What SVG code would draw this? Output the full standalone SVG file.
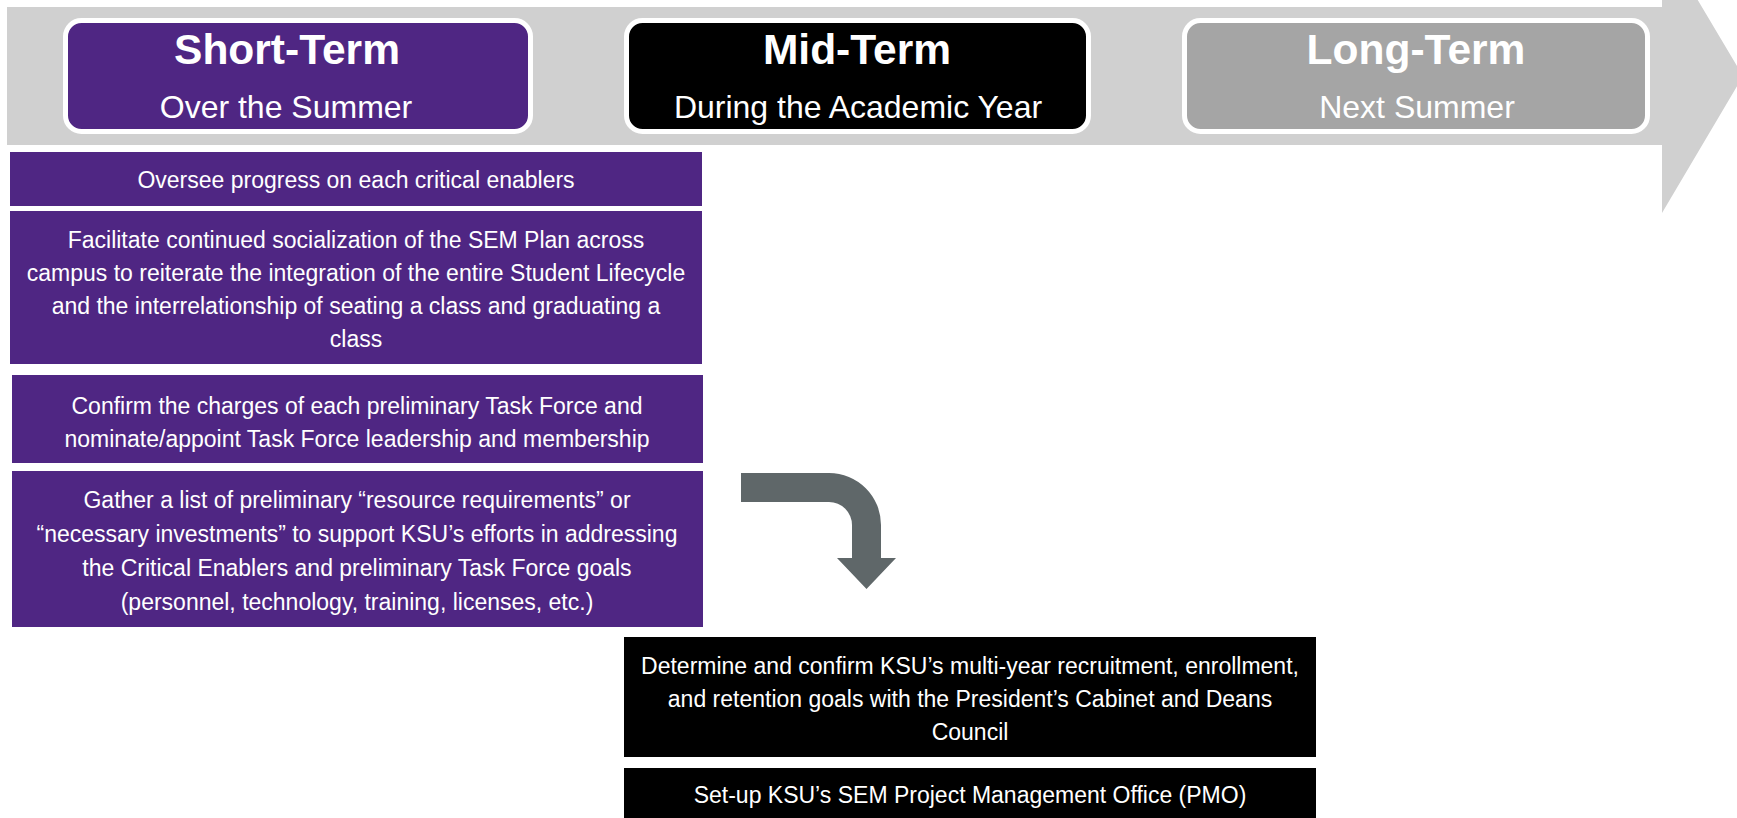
<svg xmlns="http://www.w3.org/2000/svg" width="1737" height="818" viewBox="0 0 1737 818">
<style>
  .hdr { stroke: #ffffff; stroke-width: 5; }
  .title { font-family: "Liberation Sans", Arial, sans-serif; font-weight: bold; font-size: 42.5px; fill: #ffffff; text-anchor: middle; }
  .sub { font-family: "Liberation Sans", Arial, sans-serif; font-size: 32px; fill: #ffffff; text-anchor: middle; }
  .body { font-family: "Liberation Sans", Arial, sans-serif; font-size: 23px; fill: #ffffff; text-anchor: middle; }
  .purple { fill: #4f2683; }
  .black { fill: #000000; }
</style>
<rect width="1737" height="818" fill="#ffffff"/>
<g id="timeline">
  <path d="M7,7 H1662 V-60 L1743,76 L1662,213 V145 H7 Z" fill="#d0d0d0"/>
</g>
<g id="short-term">
  <rect class="hdr" x="65.5" y="20.5" width="465" height="111" rx="16" fill="#4f2683"/>
  <text class="title" x="287" y="64">Short-Term</text>
  <text class="sub" x="286" y="118">Over the Summer</text>
</g>
<g id="mid-term">
  <rect class="hdr" x="626.5" y="20.5" width="462" height="111" rx="16" fill="#000000"/>
  <text class="title" x="857" y="64">Mid-Term</text>
  <text class="sub" x="858" y="118">During the Academic Year</text>
</g>
<g id="long-term">
  <rect class="hdr" x="1184.5" y="20.5" width="463" height="111" rx="16" fill="#a5a5a5"/>
  <text class="title" x="1416" y="64">Long-Term</text>
  <text class="sub" x="1417" y="118">Next Summer</text>
</g>
<g id="task1">
  <rect class="purple" x="10" y="152" width="692" height="54"/>
  <text class="body" x="356" y="188">Oversee progress on each critical enablers</text>
</g>
<g id="task2">
  <rect class="purple" x="10" y="211" width="692" height="153"/>
  <text class="body" x="356" y="248">Facilitate continued socialization of the SEM Plan across</text>
  <text class="body" x="356" y="281">campus to reiterate the integration of the entire Student Lifecycle</text>
  <text class="body" x="356" y="314">and the interrelationship of seating a class and graduating a</text>
  <text class="body" x="356" y="347">class</text>
</g>
<g id="task3">
  <rect class="purple" x="12" y="375" width="691" height="88"/>
  <text class="body" x="357" y="414">Confirm the charges of each preliminary Task Force and</text>
  <text class="body" x="357" y="447">nominate/appoint Task Force leadership and membership</text>
</g>
<g id="task4">
  <rect class="purple" x="12" y="471" width="691" height="156"/>
  <text class="body" x="357" y="508">Gather a list of preliminary “resource requirements” or</text>
  <text class="body" x="357" y="542">“necessary investments” to support KSU’s efforts in addressing</text>
  <text class="body" x="357" y="576">the Critical Enablers and preliminary Task Force goals</text>
  <text class="body" x="357" y="610">(personnel, technology, training, licenses, etc.)</text>
</g>
<g id="task5">
  <rect class="black" x="624" y="637" width="692" height="120"/>
  <text class="body" x="970" y="674">Determine and confirm KSU’s multi-year recruitment, enrollment,</text>
  <text class="body" x="970" y="707">and retention goals with the President’s Cabinet and Deans</text>
  <text class="body" x="970" y="740">Council</text>
</g>
<g id="task6">
  <rect class="black" x="624" y="768" width="692" height="55"/>
  <text class="body" x="970" y="803">Set-up KSU’s SEM Project Management Office (PMO)</text>
</g>
<g id="connectors">
  <path d="M741,473 H829 A52,52 0 0 1 881,525 V558 H896 L866.5,589 L837,558 H852 V525 A23,23 0 0 0 829,502 H741 Z" fill="#5f6769"/>
</g>
</svg>
